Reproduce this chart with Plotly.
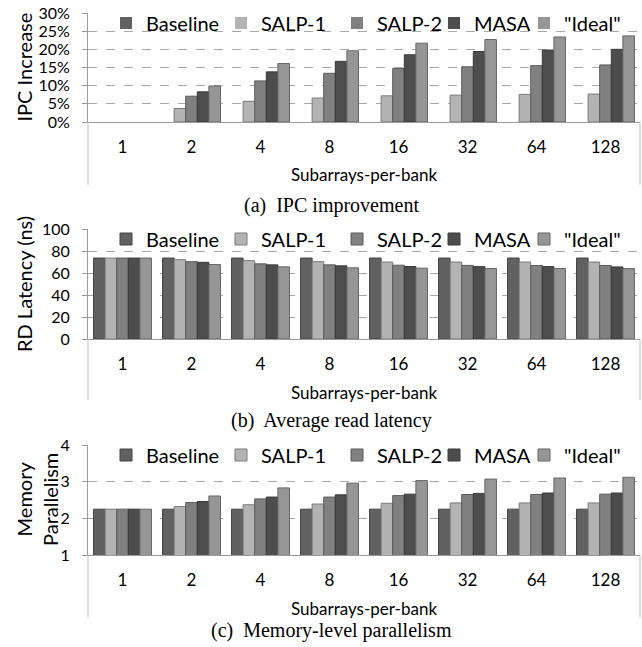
import plotly.graph_objects as go

W, H = 642, 647

categories = ["1", "2", "4", "8", "16", "32", "64", "128"]
series_names = ["Baseline", "SALP-1", "SALP-2", "MASA", '"Ideal"']
fill_colors = ["#616161", "#b3b3b3", "#808080", "#4d4d4d", "#969696"]
line_colors = ["#454545", "#7a7a7a", "#5a5a5a", "#383838", "#666666"]

# (a) IPC increase (%)
ipc_baseline = [0, 0, 0, 0, 0, 0, 0, 0]
ipc_salp1 = [0, 3.7, 5.7, 6.6, 7.2, 7.4, 7.6, 7.7]
ipc_salp2 = [0, 7.1, 11.3, 13.4, 14.7, 15.2, 15.5, 15.7]
ipc_masa = [0, 8.3, 13.8, 16.7, 18.5, 19.4, 19.8, 20.0]
ipc_ideal = [0, 9.9, 16.1, 19.6, 21.7, 22.7, 23.4, 23.7]

# (b) average read latency (ns)
lat_baseline = [73.6, 73.6, 73.6, 73.6, 73.6, 73.6, 73.6, 73.6]
lat_salp1 = [73.6, 72.1, 71.2, 70.3, 70.0, 70.0, 70.0, 70.0]
lat_salp2 = [73.6, 70.3, 68.3, 67.4, 67.1, 66.9, 66.8, 66.8]
lat_masa = [73.6, 69.7, 67.4, 66.5, 65.9, 65.8, 65.8, 65.5]
lat_ideal = [73.6, 67.7, 65.6, 64.7, 64.4, 64.1, 64.1, 64.0]

# (c) memory-level parallelism
mlp_baseline = [2.25, 2.25, 2.25, 2.25, 2.25, 2.25, 2.25, 2.25]
mlp_salp1 = [2.25, 2.32, 2.37, 2.39, 2.41, 2.42, 2.42, 2.42]
mlp_salp2 = [2.25, 2.43, 2.53, 2.58, 2.62, 2.65, 2.65, 2.66]
mlp_masa = [2.25, 2.46, 2.58, 2.64, 2.66, 2.68, 2.69, 2.69]
mlp_ideal = [2.25, 2.61, 2.83, 2.96, 3.03, 3.07, 3.10, 3.12]

panels = [
    dict(data=[ipc_baseline, ipc_salp1, ipc_salp2, ipc_masa, ipc_ideal],
         top=13, bottom=122, box_bottom=185, rng=[0, 30], dtick=5, suffix="%",
         ytitle="IPC Increase", ytitle_x=24, caption="(a)  IPC improvement", cap_y=205),
    dict(data=[lat_baseline, lat_salp1, lat_salp2, lat_masa, lat_ideal],
         top=229, bottom=339, box_bottom=400, rng=[0, 100], dtick=20, suffix="",
         ytitle="RD Latency (ns)", ytitle_x=24, caption="(b)  Average read latency", cap_y=420),
    dict(data=[mlp_baseline, mlp_salp1, mlp_salp2, mlp_masa, mlp_ideal],
         top=445, bottom=555, box_bottom=618, rng=[1, 4], dtick=1, suffix="",
         ytitle="Memory<br>Parallelism", ytitle_x=37, caption="(c)  Memory-level parallelism", cap_y=630),
]

X0, X1 = 88, 640
FONT = "Lato"
legend_icon_x = [122, 237, 353, 450, 540]

def py(p):
    return 1 - p / H

def px(p):
    return p / W

fig = go.Figure()
layout = dict(
    template="none", showlegend=True,
    width=W, height=H, margin=dict(l=0, r=0, t=0, b=0, autoexpand=False),
    paper_bgcolor="white", plot_bgcolor="white",
    barmode="group", bargap=0.16, bargroupgap=0,
    font=dict(family=FONT, color="black", size=17),
)
annotations = []
shapes = []
leg_count = 0

for i, p in enumerate(panels):
    k = "" if i == 0 else str(i + 1)
    xa, ya = "x" + k, "y" + k
    for j, name in enumerate(series_names):
        leg_count += 1
        leg = "legend" if leg_count == 1 else "legend%d" % leg_count
        vals = p["data"][j]
        base = p["rng"][0]
        widths = [0 if v <= base else 1 for v in vals]
        fig.add_trace(go.Bar(
            x=categories, y=vals, name=name, showlegend=True,
            xaxis=xa, yaxis=ya, legend=leg,
            marker=dict(color=fill_colors[j], line=dict(color=line_colors[j], width=widths)),
        ))
        layout[leg] = dict(
            orientation="h", x=px(legend_icon_x[j] - 16), xanchor="left",
            y=py(p["top"] + 10), yanchor="middle",
            bgcolor="rgba(0,0,0,0)", font=dict(size=20, family=FONT),
            itemwidth=30,
        )
    layout["xaxis" + k] = dict(
        domain=[px(X0), px(X1)], anchor=ya, type="category", automargin=False,
        showline=True, linecolor="#9a9a9a", linewidth=1,
        ticks="", showgrid=False, tickfont=dict(size=17, family=FONT),
        ticklabelstandoff=10,
    )
    layout["yaxis" + k] = dict(
        domain=[py(p["bottom"]), py(p["top"])], anchor=xa, automargin=False,
        range=p["rng"], dtick=p["dtick"], tick0=0, ticksuffix=p["suffix"],
        showline=True, linecolor="#9a9a9a", linewidth=1,
        ticks="outside", ticklen=5, tickcolor="#9a9a9a",
        showgrid=True, gridcolor="#a8a8a8", griddash="dash", gridwidth=1,
        zeroline=False, tickfont=dict(size=16, family=FONT),
        ticklabelstandoff=9,
    )
    annotations.append(dict(
        text=p["ytitle"], x=px(p["ytitle_x"]), y=py((p["top"] + p["bottom"]) / 2),
        xref="paper", yref="paper", textangle=-90, showarrow=False,
        font=dict(size=20, family=FONT), xanchor="center", yanchor="middle",
    ))
    annotations.append(dict(
        text="Subarrays-per-bank", x=px((X0 + X1) / 2), y=py(p["bottom"] + 53),
        xref="paper", yref="paper", showarrow=False,
        font=dict(size=17, family=FONT), xanchor="center", yanchor="middle",
    ))
    annotations.append(dict(
        text=p["caption"], x=px(332), y=py(p["cap_y"]),
        xref="paper", yref="paper", showarrow=False,
        font=dict(size=20, family="Liberation Serif"), xanchor="center", yanchor="middle",
    ))
    for xx in (X0, X1):
        shapes.append(dict(
            type="line", xref="paper", yref="paper",
            x0=px(xx), x1=px(xx), y0=py(p["bottom"]), y1=py(p["box_bottom"]),
            line=dict(color="#c0c0c0", width=1),
        ))

layout["annotations"] = annotations
layout["shapes"] = shapes
fig.update_layout(**layout)
fig.write_html(
    "out.html",
    config={"displayModeBar": False},
    post_script="document.body.style.margin='0';document.body.style.overflow='hidden';",
)
